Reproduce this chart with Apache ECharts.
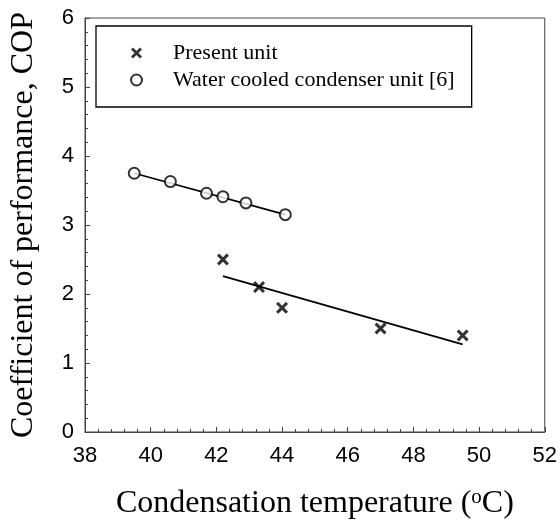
<!DOCTYPE html>
<html>
<head>
<meta charset="utf-8">
<style>
  html, body { margin: 0; padding: 0; background: #fff; }
  #chart { width: 560px; height: 525px; }
</style>
<script src="https://cdn.jsdelivr.net/npm/echarts@6/dist/echarts.min.js"></script>
</head>
<body>
<div id="chart"></div>
<script>
// values
const presentTemp = [42.2, 43.3, 44.0, 47.0, 49.5];
const presentCop = [2.5, 2.1, 1.8, 1.5, 1.4];
const waterTemp = [39.5, 40.6, 41.7, 42.2, 42.9, 44.1];
const waterCop = [3.75, 3.63, 3.46, 3.41, 3.32, 3.15];
// fitted lines (end points)
const presentFitTemp = [42.2, 49.5];
const presentFitCop = [2.26, 1.27];
const waterFitTemp = [39.5, 44.1];
const waterFitCop = [3.75, 3.15];

const xTicks = [38, 40, 42, 44, 46, 48, 50, 52];
const yTicks = [0, 1, 2, 3, 4, 5, 6];

const crossPath = 'path://M0,1.8 L1.8,0 L5,3.2 L8.2,0 L10,1.8 L6.8,5 L10,8.2 L8.2,10 L5,6.8 L1.8,10 L0,8.2 L3.2,5 Z';

function pairs(xs, ys) {
  return xs.map((x, i) => [x, ys[i]]);
}

let chart = echarts.init(document.getElementById('chart'), null, { renderer: 'canvas' });
let axisColor = '#444';
let options = {
  backgroundColor: '#fff',
  animation: false,
  grid: {
    left: 83, right: 15, top: 18, bottom: 89,
    show: true,
    borderColor: axisColor,
    borderWidth: 1
  },
  legend: {
    orient: 'vertical',
    left: 96, top: 26,
    padding: [16, 17, 16, 34],
    itemWidth: 11, itemHeight: 11,
    itemGap: 5,
    borderColor: '#000',
    borderWidth: 1.3,
    formatter: '{n|{name}}',
    textStyle: {
      rich: {
        n: { fontFamily: 'Liberation Serif', fontSize: 22, color: '#000', padding: [0, 0, 0, 26] }
      }
    },
    data: ['Present unit', 'Water cooled condenser unit [6]']
  },
  xAxis: {
    type: 'value',
    min: xTicks[0], max: xTicks[xTicks.length - 1], interval: 2,
    name: '{a|Condensation temperature (}{s|o}{a|C)}',
    nameLocation: 'middle',
    nameGap: 55,
    nameTextStyle: {
      rich: {
        a: { fontFamily: 'Liberation Serif', fontSize: 32, color: '#000', lineHeight: 34 },
        s: { fontFamily: 'Liberation Serif', fontSize: 21, color: '#000', verticalAlign: 'top', lineHeight: 34, padding: [0, 0, 10, 0] }
      }
    },
    axisLine: { lineStyle: { color: axisColor, width: 1 } },
    axisTick: { inside: true, length: 5, lineStyle: { color: axisColor } },
    minorTick: { show: true, splitNumber: 5, length: 3, lineStyle: { color: axisColor } },
    splitLine: { show: false },
    axisLabel: { fontFamily: 'Liberation Sans', fontSize: 22, color: '#000', margin: 13 }
  },
  yAxis: {
    type: 'value',
    min: yTicks[0], max: yTicks[yTicks.length - 1], interval: 1,
    name: 'Coefficient of performance, COP',
    nameLocation: 'middle',
    nameGap: 45,
    nameTextStyle: { fontFamily: 'Liberation Serif', fontSize: 32, color: '#000' },
    axisLine: { show: true, lineStyle: { color: axisColor, width: 1 } },
    axisTick: { inside: true, length: 5, lineStyle: { color: axisColor } },
    minorTick: { show: true, splitNumber: 5, length: 3, lineStyle: { color: axisColor } },
    splitLine: { show: false },
    axisLabel: { fontFamily: 'Liberation Sans', fontSize: 22, color: '#000', margin: 11 }
  },
  series: [
    {
      name: 'Present unit',
      type: 'scatter',
      symbol: crossPath,
      symbolSize: 12,
      itemStyle: { color: '#000' },
      data: pairs(presentTemp, presentCop),
      z: 3
    },
    {
      name: 'Water cooled condenser unit [6]',
      type: 'scatter',
      symbol: 'emptyCircle',
      symbolSize: 11,
      itemStyle: { color: '#000', borderColor: '#222', borderWidth: 1.1 },
      data: pairs(waterTemp, waterCop),
      z: 3
    },
    {
      type: 'line',
      symbol: 'none',
      lineStyle: { color: '#000', width: 1.7 },
      data: pairs(presentFitTemp, presentFitCop),
      z: 2
    },
    {
      type: 'line',
      symbol: 'none',
      lineStyle: { color: '#000', width: 1.7 },
      data: pairs(waterFitTemp, waterFitCop),
      z: 2
    }
  ]
};
chart.setOption(options);
</script>
</body>
</html>
